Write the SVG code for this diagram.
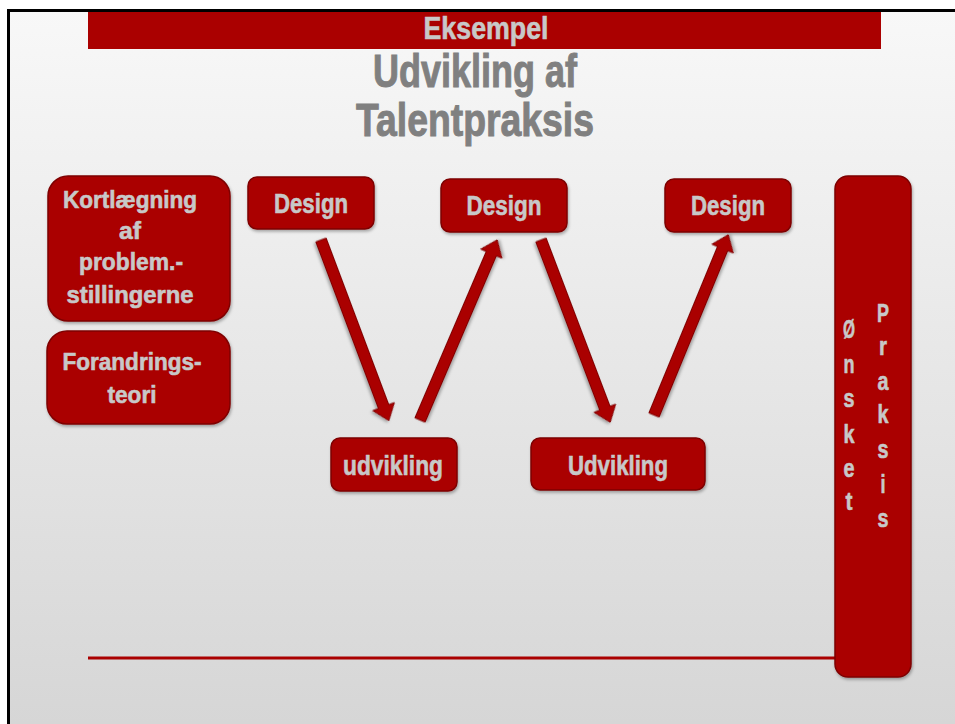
<svg xmlns="http://www.w3.org/2000/svg" width="955" height="724" viewBox="0 0 955 724">
<defs>
<linearGradient id="bg" x1="0" y1="0" x2="0" y2="1">
<stop offset="0" stop-color="#f8f8f8"/>
<stop offset="1" stop-color="#d6d6d6"/>
</linearGradient>
<filter id="sh" x="-10%" y="-10%" width="130%" height="130%">
<feDropShadow dx="1" dy="2" stdDeviation="1.5" flood-color="#000" flood-opacity="0.3"/>
</filter>
</defs>
<style>
.box{fill:#aa0000;stroke:#7e0000;stroke-width:1.5;filter:url(#sh)}
.t{font-family:"Liberation Sans Narrow","Liberation Sans",Arial,sans-serif;font-weight:bold;fill:#c8c8c8;stroke:#c8c8c8;stroke-width:0.6;text-anchor:middle}
.title{font-family:"Liberation Sans Narrow","Liberation Sans",Arial,sans-serif;font-weight:bold;fill:#808080;stroke:#808080;stroke-width:1;text-anchor:middle}
.v{font-size:26px}
.arrow{fill:#aa0000;stroke:#7e0000;stroke-width:1;filter:url(#sh)}
</style>
<rect x="0" y="0" width="955" height="724" fill="#ffffff"/>
<rect x="8" y="10" width="947" height="714" fill="url(#bg)"/>
<line x1="7" y1="10.5" x2="955" y2="10.5" stroke="#000" stroke-width="3"/>
<line x1="8.5" y1="9" x2="8.5" y2="724" stroke="#000" stroke-width="3"/>

<g id="banner">
<rect x="88" y="12" width="793" height="37" fill="#aa0000"/>
<text class="t" x="486" y="39" font-size="32" textLength="125" lengthAdjust="spacingAndGlyphs">Eksempel</text>
</g>
<g id="title">
<text class="title" x="475" y="87" font-size="47" textLength="204" lengthAdjust="spacingAndGlyphs">Udvikling af</text>
<text class="title" x="475" y="136" font-size="47" textLength="238" lengthAdjust="spacingAndGlyphs">Talentpraksis</text>
</g>

<line x1="88" y1="658" x2="836" y2="658" stroke="#aa0000" stroke-width="3"/>

<g id="kortlaegning">
<rect class="box" x="48" y="176" width="182" height="145" rx="20"/>
<text class="t" font-size="24"><tspan x="130" y="208" textLength="134" lengthAdjust="spacingAndGlyphs">Kortlægning</tspan><tspan x="130" y="239" textLength="22" lengthAdjust="spacingAndGlyphs">af</tspan><tspan x="131" y="270" textLength="104" lengthAdjust="spacingAndGlyphs">problem.-</tspan><tspan x="130" y="303" textLength="127" lengthAdjust="spacingAndGlyphs">stillingerne</tspan></text>
</g>
<g id="forandringsteori">
<rect class="box" x="47" y="331" width="183" height="93" rx="20"/>
<text class="t" font-size="24"><tspan x="132" y="370" textLength="139" lengthAdjust="spacingAndGlyphs">Forandrings-</tspan><tspan x="132" y="403" textLength="49" lengthAdjust="spacingAndGlyphs">teori</tspan></text>
</g>

<g id="design1">
<rect class="box" x="248" y="177" width="126" height="52" rx="9"/>
<text class="t" x="311" y="213" font-size="28" textLength="74" lengthAdjust="spacingAndGlyphs">Design</text>
</g>
<g id="design2">
<rect class="box" x="441" y="179" width="126" height="53" rx="9"/>
<text class="t" x="504" y="215" font-size="28" textLength="75" lengthAdjust="spacingAndGlyphs">Design</text>
</g>
<g id="design3">
<rect class="box" x="665" y="179" width="126" height="53" rx="9"/>
<text class="t" x="728" y="215" font-size="28" textLength="74" lengthAdjust="spacingAndGlyphs">Design</text>
</g>
<g id="udvikling1">
<rect class="box" x="331" y="438" width="126" height="53" rx="9"/>
<text class="t" x="393" y="475" font-size="28" textLength="100" lengthAdjust="spacingAndGlyphs">udvikling</text>
</g>
<g id="udvikling2">
<rect class="box" x="531" y="438" width="174" height="52" rx="9"/>
<text class="t" x="618" y="475" font-size="28" textLength="100" lengthAdjust="spacingAndGlyphs">Udvikling</text>
</g>

<g id="onsket-praksis">
<rect class="box" x="835" y="176" width="76" height="501" rx="13"/>
<text class="t v"><tspan x="849" y="338" textLength="12" lengthAdjust="spacingAndGlyphs">Ø</tspan><tspan x="849" y="373" textLength="11" lengthAdjust="spacingAndGlyphs">n</tspan><tspan x="849" y="407" textLength="11" lengthAdjust="spacingAndGlyphs">s</tspan><tspan x="849" y="443" textLength="11" lengthAdjust="spacingAndGlyphs">k</tspan><tspan x="849" y="477" textLength="11" lengthAdjust="spacingAndGlyphs">e</tspan><tspan x="849" y="510" textLength="7" lengthAdjust="spacingAndGlyphs">t</tspan></text>
<text class="t v"><tspan x="883" y="322" textLength="12" lengthAdjust="spacingAndGlyphs">P</tspan><tspan x="883" y="355" textLength="8" lengthAdjust="spacingAndGlyphs">r</tspan><tspan x="883" y="390" textLength="11" lengthAdjust="spacingAndGlyphs">a</tspan><tspan x="883" y="423" textLength="11" lengthAdjust="spacingAndGlyphs">k</tspan><tspan x="883" y="458" textLength="11" lengthAdjust="spacingAndGlyphs">s</tspan><tspan x="883" y="493" textLength="5" lengthAdjust="spacingAndGlyphs">i</tspan><tspan x="883" y="527" textLength="11" lengthAdjust="spacingAndGlyphs">s</tspan></text>
</g>

<g id="connectors">
<polygon class="arrow" transform="translate(321,240) rotate(69.4)" points="0,-5.5 178,-5.5 178,-11.5 193,0 178,11.5 178,5.5 0,5.5"/>
<polygon class="arrow" transform="translate(420,420) rotate(-66.8)" points="0,-5.5 181,-5.5 181,-11.5 196,0 181,11.5 181,5.5 0,5.5"/>
<polygon class="arrow" transform="translate(541,240) rotate(69.2)" points="0,-5.5 180,-5.5 180,-11.5 195,0 180,11.5 180,5.5 0,5.5"/>
<polygon class="arrow" transform="translate(654,415) rotate(-67.6)" points="0,-5.5 180,-5.5 180,-11.5 195,0 180,11.5 180,5.5 0,5.5"/>
</g>
</svg>
